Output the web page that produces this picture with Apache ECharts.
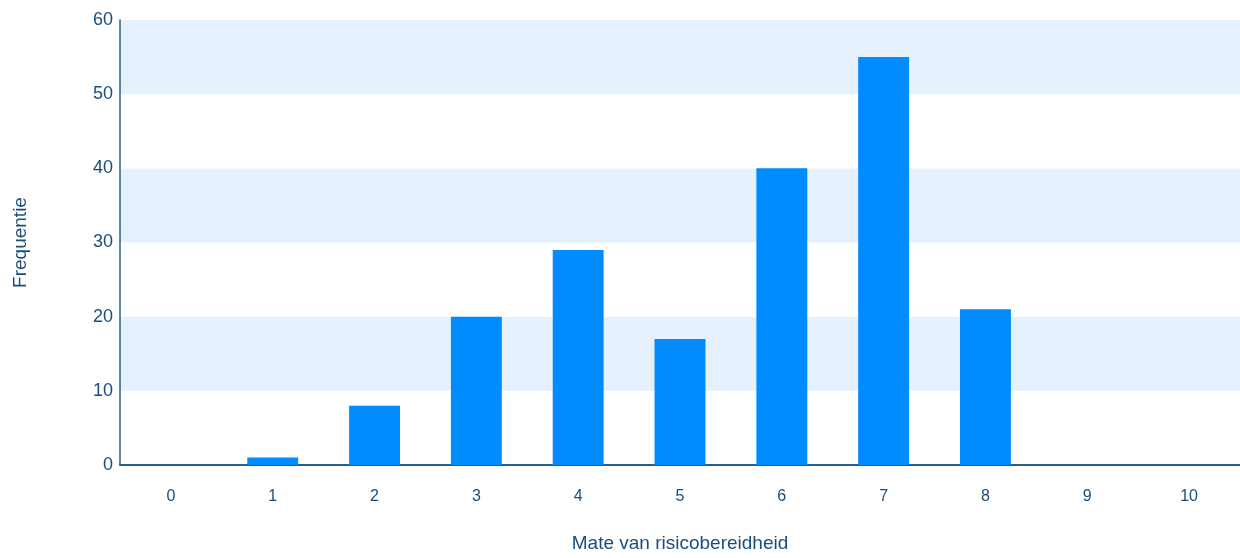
<!DOCTYPE html>
<html>
<head>
<meta charset="utf-8">
<script src="https://cdn.jsdelivr.net/npm/echarts@6/dist/echarts.min.js"></script>
<style>
  html, body { margin: 0; padding: 0; background: #ffffff; }
  #chart { width: 1240px; height: 558px; }
</style>
</head>
<body>
<div id="chart"></div>
<script>
// Risk appetite scores (0-10) and how often each was given
const categories = ['0', '1', '2', '3', '4', '5', '6', '7', '8', '9', '10'];
const frequencies = [0, 1, 8, 20, 29, 17, 40, 55, 21, 0, 0];
const xAxisTitle = 'Mate van risicobereidheid';
const yAxisTitle = 'Frequentie';

const textColor = '#1b4d7a';
const fontFamily = 'Liberation Sans, Arial, sans-serif';

const chart = echarts.init(document.getElementById('chart'), null, { renderer: 'canvas' });
chart.setOption({
  animation: false,
  grid: { left: 120, right: 0, top: 20, bottom: 90, containLabel: false },
  xAxis: {
    type: 'category',
    data: categories,
    name: xAxisTitle,
    nameLocation: 'middle',
    nameGap: 69,
    nameTextStyle: { color: textColor, fontSize: 19, fontFamily },
    axisLine: { show: true, lineStyle: { color: '#2a5f8c', width: 2 } },
    axisTick: { show: false },
    axisLabel: { color: textColor, fontSize: 16, margin: 24, fontFamily },
    splitLine: { show: false }
  },
  yAxis: {
    type: 'value',
    min: 0,
    max: 60,
    interval: 10,
    name: yAxisTitle,
    nameLocation: 'middle',
    nameGap: 90,
    nameRotate: 90,
    nameTextStyle: { color: textColor, fontSize: 19, fontFamily },
    axisLine: { show: true, lineStyle: { color: '#2a5f8c', width: 1.5 } },
    axisTick: { show: false },
    axisLabel: { color: textColor, fontSize: 18, margin: 7, fontFamily },
    splitLine: { show: false },
    splitArea: { show: true, areaStyle: { color: ['#ffffff', '#e5f2fd'] } }
  },
  series: [{
    type: 'bar',
    data: frequencies,
    barWidth: '50%',
    itemStyle: { color: '#008cff' }
  }]
});
</script>
</body>
</html>
